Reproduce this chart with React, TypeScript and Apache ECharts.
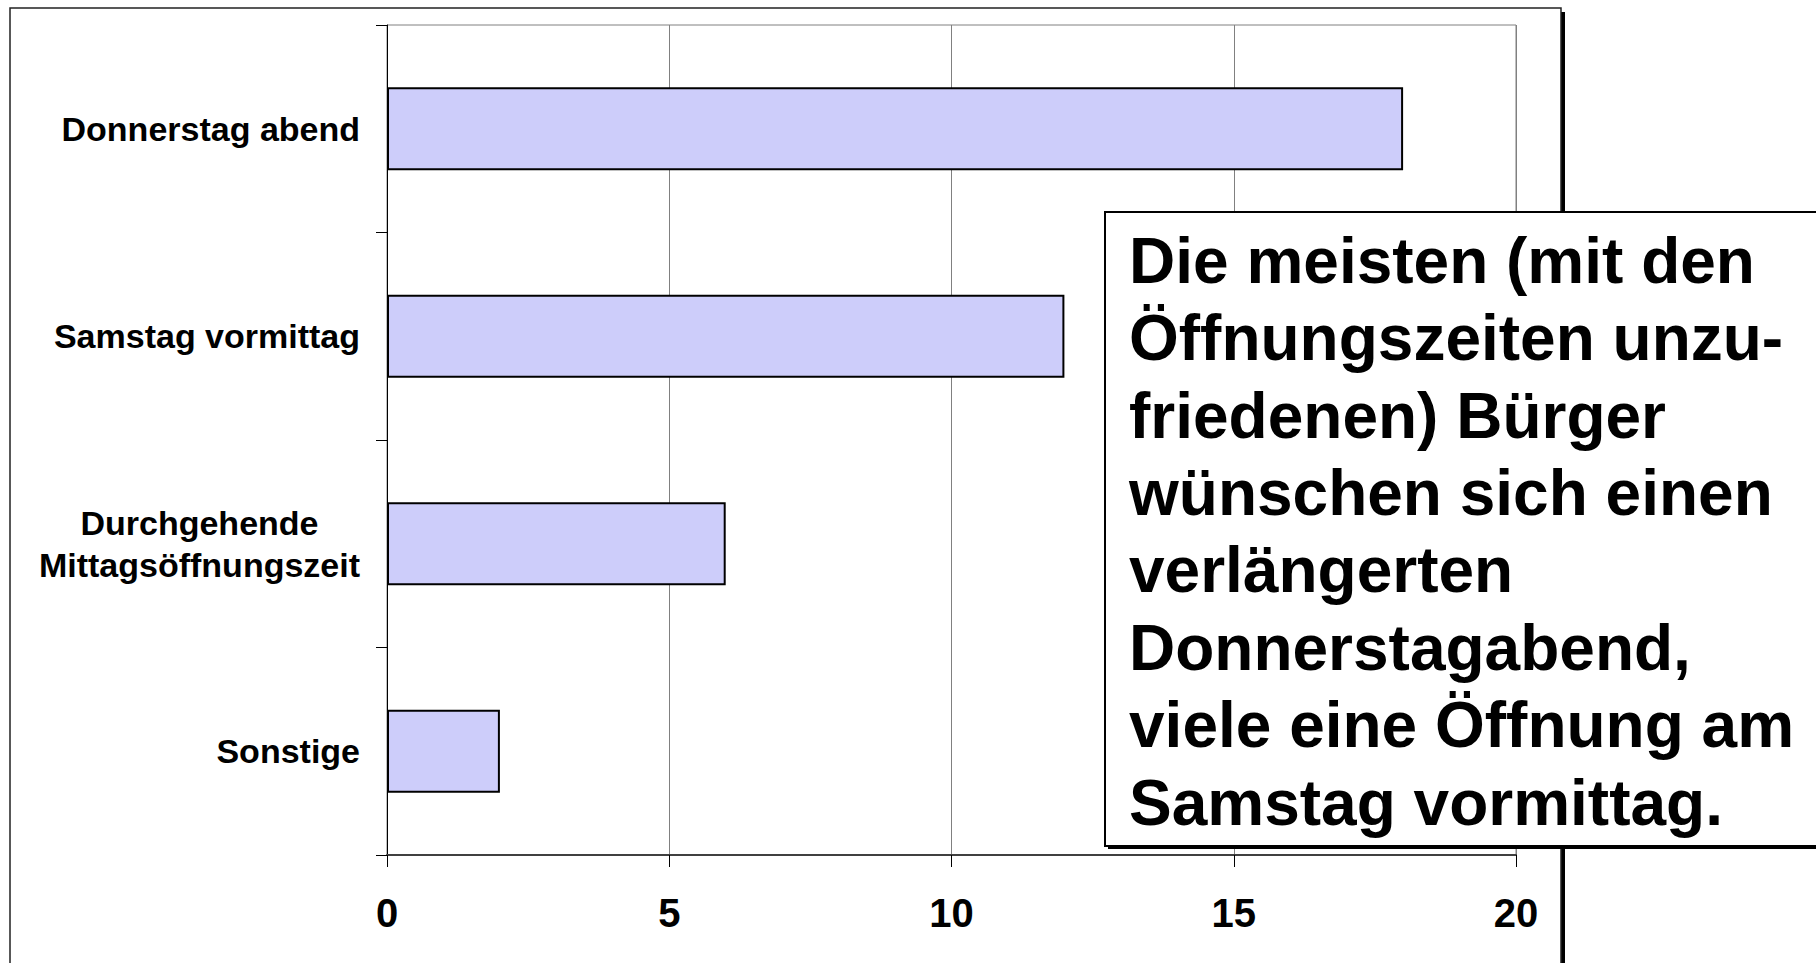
import React, { useEffect, useRef } from "react";
import * as echarts from "echarts";

const categories = [
  "Donnerstag abend",
  "Samstag vormittag",
  "Durchgehende\nMittagsöffnungszeit",
  "Sonstige",
];
const values = [18, 12, 6, 2];
const xTicks = { min: 0, max: 20, interval: 5 };
const noteLines = [
  "Die meisten (mit den",
  "Öffnungszeiten unzu-",
  "friedenen) Bürger",
  "wünschen sich einen",
  "verlängerten",
  "Donnerstagabend,",
  "viele eine Öffnung am",
  "Samstag vormittag.",
];

const FONT = "'Liberation Sans', Arial, Helvetica, sans-serif";

export default function App() {
  const ref = useRef<HTMLDivElement>(null);
  useEffect(() => {
    if (!ref.current) return;
    const chart = echarts.init(ref.current, undefined, { renderer: "svg" });
    chart.setOption({
      animation: false,
      backgroundColor: "#ffffff",
      grid: {
        left: 387,
        top: 25,
        width: 1129,
        height: 830,
        show: true,
        borderColor: "#808080",
        borderWidth: 1,
        containLabel: false,
      },
      xAxis: {
        type: "value",
        min: xTicks.min,
        max: xTicks.max,
        interval: xTicks.interval,
        axisLine: { show: true, lineStyle: { color: "#404040", width: 2 } },
        axisTick: { show: true, length: 12, lineStyle: { color: "#000", width: 1 } },
        splitLine: { show: true, lineStyle: { color: "#808080", width: 1 } },
        axisLabel: {
          margin: 38,
          fontSize: 40,
          fontWeight: "bold",
          fontFamily: FONT,
          color: "#000",
        },
      },
      yAxis: {
        type: "category",
        data: categories,
        inverse: true,
        axisLine: { show: true, lineStyle: { color: "#000", width: 1 } },
        axisTick: { show: true, length: 11, alignWithLabel: false, lineStyle: { color: "#000", width: 1 } },
        splitLine: { show: false },
        axisLabel: {
          margin: 27,
          color: "#000",
          formatter: (v: string) =>
            v
              .split("\n")
              .map((l) => `{c|${l}}`)
              .join("\n"),
          rich: {
            c: {
              align: "center",
              fontSize: 34,
              fontWeight: "bold",
              fontFamily: FONT,
              lineHeight: 42,
              color: "#000",
            },
          },
        },
      },
      series: [
        {
          type: "bar",
          data: values,
          barCategoryGap: "60%",
          itemStyle: {
            color: "#cdcdfa",
            borderColor: "#000",
            borderWidth: 2,
          },
        },
      ],
      graphic: [
        {
          type: "rect",
          z: 50,
          shape: { x: 10, y: 8, width: 1551, height: 1000 },
          style: { fill: "none", stroke: "#222", lineWidth: 1.5 },
        },
        {
          type: "rect",
          z: 49,
          shape: { x: 1561, y: 12, width: 4, height: 1000 },
          style: { fill: "#000" },
        },
        {
          type: "rect",
          z: 60,
          shape: { x: 1108, y: 215, width: 760, height: 634 },
          style: { fill: "#000" },
        },
        {
          type: "rect",
          z: 61,
          shape: { x: 1105, y: 212, width: 760, height: 634 },
          style: { fill: "#fff", stroke: "#000", lineWidth: 2 },
        },
        {
          type: "text",
          z: 62,
          x: 1129,
          y: 222,
          style: {
            text: noteLines.join("\n"),
            fontSize: 64,
            fontWeight: "bold",
            fontFamily: FONT,
            lineHeight: 77.4,
            fill: "#000",
            textAlign: "left",
            textVerticalAlign: "top",
          },
        },
      ],
    });
    return () => chart.dispose();
  }, []);
  return (
    <div
      ref={ref}
      style={{ position: "absolute", left: 0, top: 0, width: 1816, height: 963 }}
    />
  );
}
